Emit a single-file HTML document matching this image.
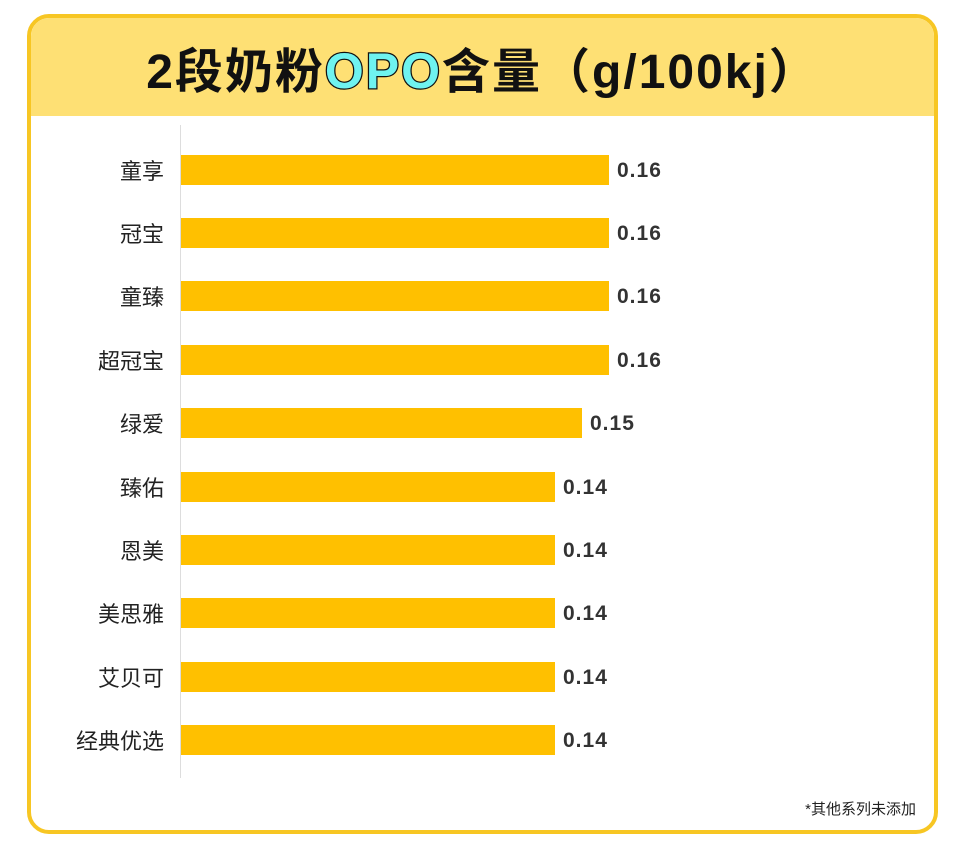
<!DOCTYPE html>
<html><head><meta charset="utf-8"><style>
body{margin:0;width:966px;height:851px;background:#fff;position:relative;overflow:hidden;font-family:"Liberation Sans","Noto Sans CJK SC",sans-serif}
.card{position:absolute;left:27px;top:14px;width:903px;height:812px;border:4px solid #F7C623;border-radius:22px;overflow:hidden;background:#fff}
.hdr{position:absolute;left:0;top:0;right:0;height:98px;background:#FEE074}
.title{position:absolute;left:0;right:0;top:14px;text-align:center;font-size:48px;font-weight:bold;color:#111;font-family:"Liberation Sans","Noto Sans CJK SC",sans-serif;letter-spacing:2px;white-space:nowrap}
.opo{color:#6FF3F0;-webkit-text-stroke:2.5px #111;font-size:50px;paint-order:stroke fill}
.axis{position:absolute;left:180px;top:125px;width:1px;height:653px;background:#ddd}
.bar{position:absolute;left:181px;height:30px;background:#FFC000}
.lab{position:absolute;right:802px;font-size:22px;color:#222;text-align:right;white-space:nowrap;line-height:30px}
.val{position:absolute;font-size:21px;color:#333;font-weight:bold;letter-spacing:1px;line-height:30px}
.note{position:absolute;right:50px;top:798px;font-size:15px;color:#222}
</style></head><body>
<div class="card"><div class="hdr"></div>
<div class="title">2段奶粉<span class="opo">OPO</span>含量（g/100kj）</div></div>
<div class="axis"></div>
<div class="lab" style="top:157px">童享</div><div class="bar" style="top:155px;width:428px"></div><div class="val" style="left:617px;top:156px">0.16</div>
<div class="lab" style="top:220px">冠宝</div><div class="bar" style="top:218px;width:428px"></div><div class="val" style="left:617px;top:219px">0.16</div>
<div class="lab" style="top:283px">童臻</div><div class="bar" style="top:281px;width:428px"></div><div class="val" style="left:617px;top:282px">0.16</div>
<div class="lab" style="top:347px">超冠宝</div><div class="bar" style="top:345px;width:428px"></div><div class="val" style="left:617px;top:346px">0.16</div>
<div class="lab" style="top:410px">绿爱</div><div class="bar" style="top:408px;width:401px"></div><div class="val" style="left:590px;top:409px">0.15</div>
<div class="lab" style="top:474px">臻佑</div><div class="bar" style="top:472px;width:374px"></div><div class="val" style="left:563px;top:473px">0.14</div>
<div class="lab" style="top:537px">恩美</div><div class="bar" style="top:535px;width:374px"></div><div class="val" style="left:563px;top:536px">0.14</div>
<div class="lab" style="top:600px">美思雅</div><div class="bar" style="top:598px;width:374px"></div><div class="val" style="left:563px;top:599px">0.14</div>
<div class="lab" style="top:664px">艾贝可</div><div class="bar" style="top:662px;width:374px"></div><div class="val" style="left:563px;top:663px">0.14</div>
<div class="lab" style="top:727px">经典优选</div><div class="bar" style="top:725px;width:374px"></div><div class="val" style="left:563px;top:726px">0.14</div>
<div class="note">*其他系列未添加</div>
</body></html>
